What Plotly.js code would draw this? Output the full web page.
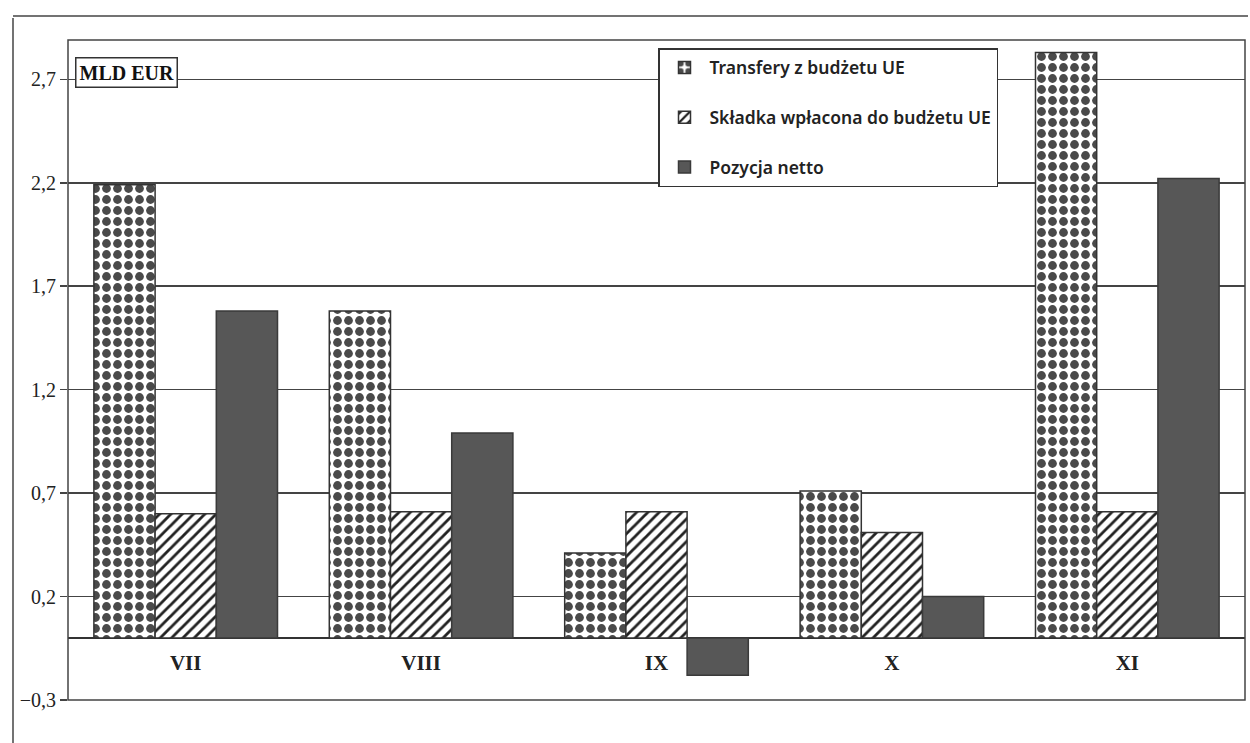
<!DOCTYPE html>
<html>
<head>
<meta charset="utf-8">
<script src="https://cdn.plot.ly/plotly-3.0.1.min.js"></script>
<style>html,body{margin:0;padding:0;background:#fff;}#chart{width:1250px;height:743px;}</style>
</head>
<body>
<div id="chart"></div>
<script>
const categories = ['VII', 'VIII', 'IX', 'X', 'XI'];
const seriesNames = ['Transfery z budżetu UE', 'Składka wpłacona do budżetu UE', 'Pozycja netto'];
const transfery = [2.19, 1.58, 0.41, 0.71, 2.83];
const skladka = [0.60, 0.61, 0.61, 0.51, 0.61];
const netto = [1.58, 0.99, -0.18, 0.20, 2.22];
const yTicks = [-0.3, 0.2, 0.7, 1.2, 1.7, 2.2, 2.7];
const unitLabel = 'MLD EUR';

const yMin = -0.3, yMax = 2.89;
const outline = {color: '#333', width: 1.5};

const traces = [
  {
    type: 'bar', name: seriesNames[0], x: categories, y: transfery, legendgroup: 'a',
    marker: {color: 'white', line: outline,
      pattern: {shape: '.', fgcolor: '#4a4a4a', bgcolor: 'white', size: 11, solidity: 0.5}}
  },
  {
    type: 'bar', name: seriesNames[1], x: categories, y: skladka, legendgroup: 'b',
    marker: {color: 'white', line: outline,
      pattern: {shape: '/', fgcolor: '#222', bgcolor: 'white', size: 8, solidity: 0.35}}
  },
  {
    type: 'bar', name: seriesNames[2], x: categories, y: netto, legendgroup: 'c',
    marker: {color: '#575757', line: {color: '#3a3a3a', width: 1.5}}
  }
];

const W = 1250, H = 743, ml = 68, mr = 5, mt = 40, mb = 43;
const pw = W - ml - mr, ph = H - mt - mb;
const px = v => (v - ml) / pw;
const py = v => 1 - (v - mt) / ph;

const layout = {
  width: W, height: H,
  margin: {l: ml, r: mr, t: mt, b: mb},
  paper_bgcolor: 'white', plot_bgcolor: 'white',
  separators: ', ',
  barmode: 'group', bargap: 0.22, bargroupgap: 0,
  showlegend: true,
  legend: {
    x: px(658), y: py(48), xanchor: 'left', yanchor: 'top',
    bgcolor: 'white', bordercolor: '#333', borderwidth: 1.5,
    font: {family: 'Noto Sans', size: 17.5, color: '#222', weight: 600},
    traceorder: 'grouped', tracegroupgap: 24, itemwidth: 40
  },
  xaxis: {
    type: 'category', anchor: 'free', position: (0 - yMin) / (yMax - yMin),
    showline: false, showgrid: false, ticks: '', fixedrange: true, ticklabelstandoff: 10,
    tickfont: {family: 'Liberation Serif', size: 21, color: '#222', weight: 700}
  },
  yaxis: {
    range: [yMin, yMax], tickvals: yTicks, tickformat: '.1f',
    showgrid: true, gridcolor: '#444', gridwidth: 1.5,
    zeroline: true, zerolinecolor: '#333', zerolinewidth: 1.5,
    showline: false, ticks: 'outside', ticklen: 7, tickcolor: '#444', tickwidth: 1.5,
    tickfont: {family: 'Liberation Serif', size: 20, color: '#222'}
  },
  shapes: [
    {type: 'rect', xref: 'paper', yref: 'paper', x0: 0, x1: 1, y0: 0, y1: 1,
     line: {color: '#444', width: 1.5}},
    {type: 'line', xref: 'paper', yref: 'paper', x0: px(13), x1: px(13), y0: py(18), y1: py(760),
     line: {color: '#444', width: 1.5}},
    {type: 'line', xref: 'paper', yref: 'paper', x0: px(13), x1: px(1248), y0: py(16), y1: py(16),
     line: {color: '#444', width: 1.5}}
  ],
  annotations: [
    {xref: 'paper', yref: 'paper', x: px(75), y: py(57), xanchor: 'left', yanchor: 'top',
     text: unitLabel, showarrow: false,
     font: {family: 'Liberation Serif', size: 20, color: '#111', weight: 700},
     bgcolor: 'white', bordercolor: '#333', borderwidth: 1.5, borderpad: 3}
  ]
};

Plotly.newPlot('chart', traces, layout, {displayModeBar: false, staticPlot: true});
</script>
</body>
</html>
